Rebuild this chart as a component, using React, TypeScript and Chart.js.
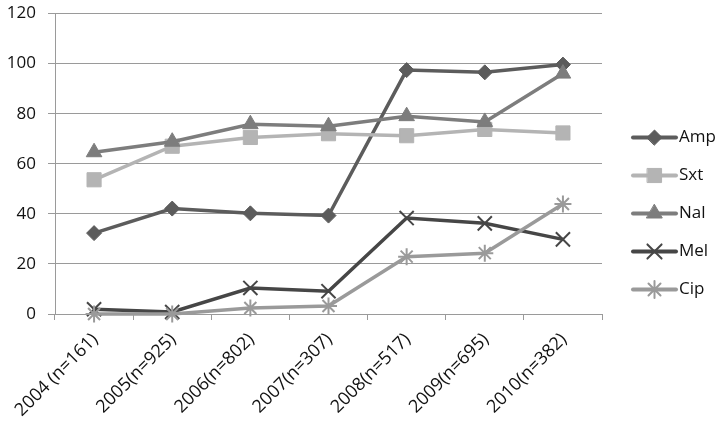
import React, { useEffect, useRef } from "react";
import { Chart, registerables } from "chart.js";
import { drawPoint } from "chart.js/helpers";

Chart.register(...registerables);

const categories = [
  "2004 (n=161)",
  "2005(n=925)",
  "2006(n=802)",
  "2007(n=307)",
  "2008(n=517)",
  "2009(n=695)",
  "2010(n=382)",
];

const amp = [32.3, 42.1, 40.2, 39.3, 97.4, 96.5, 99.6];
const sxt = [53.6, 67.0, 70.5, 72.0, 71.2, 73.7, 72.3];
const nal = [64.6, 68.8, 75.8, 75.0, 79.0, 76.7, 96.0];
const mel = [1.9, 0.8, 10.4, 9.1, 38.3, 36.2, 29.8];
const cip = [0, 0, 2.4, 3.2, 22.9, 24.3, 43.9];

const yTicks = [0, 20, 40, 60, 80, 100, 120];

const FONT = "'Open Sans', 'Liberation Sans', sans-serif";
const FS = 17;

const legendPlugin = {
  id: "sideLegend",
  afterDraw(chart: any) {
    const { ctx, chartArea } = chart;
    const sets = chart.data.datasets;
    const spacing = 38;
    const centerY = chart.height / 2;
    const startY = centerY - ((sets.length - 1) * spacing) / 2;
    const x0 = chartArea.right + 31;
    const lineLen = 43;
    ctx.save();
    sets.forEach((ds: any, i: number) => {
      const y = startY + i * spacing;
      ctx.beginPath();
      ctx.strokeStyle = ds.borderColor;
      ctx.lineWidth = 4;
      ctx.lineCap = "round";
      ctx.moveTo(x0, y);
      ctx.lineTo(x0 + lineLen, y);
      ctx.stroke();
      ctx.fillStyle = ds.pointBackgroundColor;
      ctx.strokeStyle = ds.pointBorderColor;
      ctx.lineWidth = ds.pointBorderWidth;
      drawPoint(
        ctx,
        { pointStyle: ds.pointStyle, radius: ds.pointRadius, rotation: 0, borderWidth: ds.pointBorderWidth } as any,
        x0 + lineLen / 2,
        y
      );
      ctx.fillStyle = "#111111";
      ctx.font = `${FS}px ${FONT}`;
      ctx.textAlign = "left";
      ctx.textBaseline = "middle";
      ctx.fillText(ds.label, x0 + lineLen + 3, y);
    });
    ctx.restore();
  },
};

function mk(label: string, data: number[], color: string, style: string, radius: number, bw: number, order: number) {
  return {
    label,
    data,
    order,
    borderColor: color,
    backgroundColor: color,
    borderWidth: 3.5,
    pointStyle: style,
    pointRadius: radius,
    pointHoverRadius: radius,
    pointBackgroundColor: color,
    pointBorderColor: color,
    pointBorderWidth: bw,
    tension: 0,
    clip: false,
  };
}

export default function App() {
  const ref = useRef<HTMLCanvasElement | null>(null);
  useEffect(() => {
    document.body.style.margin = "0";
    const canvas = ref.current;
    if (!canvas) return;
    const chart = new Chart(canvas, {
      type: "line",
      data: {
        labels: categories,
        datasets: [
          mk("Amp", amp, "#5c5c5c", "rectRot", 7.5, 1, 5),
          mk("Sxt", sxt, "#b4b4b4", "rect", 10, 1, 4),
          mk("Nal", nal, "#7d7d7d", "triangle", 9, 1, 3),
          mk("Mel", mel, "#464646", "crossRot", 10, 2, 2),
          mk("Cip", cip, "#9a9a9a", "star", 8.5, 2, 1),
        ] as any,
      },
      options: {
        animation: false,
        responsive: false,
        maintainAspectRatio: false,
        layout: { padding: { left: 0, right: 121, top: 13.5, bottom: 0 } },
        plugins: { legend: { display: false }, tooltip: { enabled: false } },
        scales: {
          x: {
            offset: true,
            afterFit: (scale: any) => {
              scale.height = 113;
              scale.paddingLeft = 0;
              scale.paddingRight = 0;
            },
            grid: {
              offset: true,
              drawOnChartArea: false,
              color: "#9a9a9a",
              tickLength: 6,
            },
            border: { color: "#9a9a9a", width: 1 },
            ticks: {
              color: "#111111",
              font: { family: FONT, size: 18 },
              maxRotation: 45,
              minRotation: 45,
              autoSkip: false,
              labelOffset: 1,
              padding: 9,
            },
          },
          y: {
            min: 0,
            max: 120,
            afterBuildTicks: (scale: any) => {
              scale.ticks = yTicks.map((v) => ({ value: v }));
            },
            afterFit: (scale: any) => {
              scale.width = 55;
              scale.paddingTop = 0;
              scale.paddingBottom = 0;
            },
            grid: { color: "#9a9a9a", tickLength: 7 },
            border: { color: "#9a9a9a", width: 1 },
            ticks: {
              color: "#111111",
              font: { family: FONT, size: FS },
              padding: 12,
            },
          },
        },
      },
      plugins: [legendPlugin],
    });
    return () => chart.destroy();
  }, []);
  return (
    <div style={{ width: 723, height: 427 }}>
      <canvas ref={ref} width={723} height={427} style={{ display: "block" }} />
    </div>
  );
}
